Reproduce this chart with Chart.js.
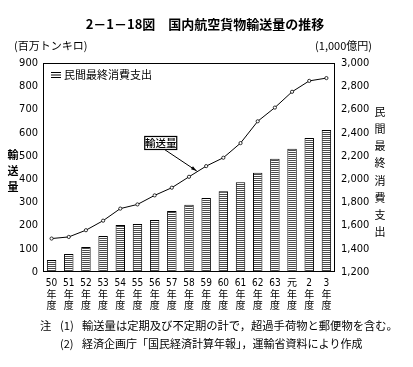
<!DOCTYPE html>
<html><head><meta charset="utf-8">
<style>html,body{margin:0;padding:0;background:#fff}canvas{display:block}</style>
<script src="https://cdn.jsdelivr.net/npm/chart.js@4.4.1/dist/chart.umd.min.js"></script>
</head><body>
<canvas id="c" width="413" height="367"></canvas>
<script>
const years = ['50','51','52','53','54','55','56','57','58','59','60','61','62','63','元','2','3'];
const categories = years.map(y => [y, '年', '度']);
const cargoVolume = [144,151,180,221,273,291,330,363,410,456,492,555,649,708,776,823,835];
const consumption = [1304,1356,1416,1511,1604,1613,1647,1725,1780,1838,1895,1973,2054,2175,2262,2354,2423];
const leftRange = {min: 0, max: 900, step: 100};
const rightRange = {min: 1200, max: 3000, step: 200};

const canvas = document.getElementById('c');
const ctx = canvas.getContext('2d');
const pc = document.createElement('canvas');
pc.width = 4; pc.height = 2;
const pg = pc.getContext('2d');
pg.fillStyle = '#fff'; pg.fillRect(0,0,4,2);
pg.fillStyle = '#4a4a4a'; pg.fillRect(0,0,4,1);
const stripes = ctx.createPattern(pc, 'repeat');

const NUM = "'Liberation Sans Narrow','DejaVu Sans Condensed','Noto Sans CJK JP',sans-serif";
const CJK = "'Noto Sans CJK JP',sans-serif";

const decor = {
  id: 'decor',
  afterDraw(chart) {
    const c = chart.ctx, a = chart.chartArea;
    c.save();
    c.strokeStyle = '#000'; c.lineWidth = 1;
    c.strokeRect(Math.round(a.left)+0.5, Math.round(a.top)+0.5, Math.round(a.right-a.left)-1, Math.round(a.bottom-a.top)-1);
    c.fillStyle = '#000';
    // title
    c.font = "bold 13px " + CJK;
    c.textAlign = 'center'; c.textBaseline = 'middle';
    c.fillText('2－1－18図　国内航空貨物輸送量の推移', 205, 24);
    // axis units
    c.font = "11px " + CJK;
    c.textAlign = 'left';
    c.fillText('(百万トンキロ)', 14, 46);
    c.textAlign = 'right';
    c.fillText('(1,000億円)', 372, 46);
    // vertical labels
    c.textAlign = 'center';
    c.font = "bold 11px " + CJK;
    ['輸','送','量'].forEach((ch,i) => c.fillText(ch, 13, 155 + i*16));
    c.font = "11px " + CJK;
    ['民','間','最','終','消','費','支','出'].forEach((ch,i) => c.fillText(ch, 380, 112 + i*17.1));
    // legend
    c.lineWidth = 1;
    for (let i = 0; i < 3; i++) {
      c.beginPath(); c.moveTo(51, 72.5 + i*2.5); c.lineTo(61, 72.5 + i*2.5); c.stroke();
    }
    c.textAlign = 'left';
    c.font = "11px " + CJK;
    c.fillText('民間最終消費支出', 64, 75);
    // annotation arrow anchored to the line between 58 and 59
    const xs = chart.scales.x, ys = chart.scales.y;
    const t = 0.45;
    const tipX = xs.getPixelForValue(8 + t);
    const tipY = ys.getPixelForValue(cargoVolume[8] + (cargoVolume[9]-cargoVolume[8])*t) - 1;
    const bx = tipX - 36, by = tipY - 28;
    c.lineWidth = 1;
    c.beginPath(); c.moveTo(bx + 3, by + 6); c.lineTo(tipX, tipY); c.stroke();
    const ang = Math.atan2(tipY - by - 6, tipX - bx - 3);
    c.beginPath();
    c.moveTo(tipX, tipY);
    c.lineTo(tipX - 6*Math.cos(ang-0.3), tipY - 6*Math.sin(ang-0.3));
    c.lineTo(tipX - 6*Math.cos(ang+0.3), tipY - 6*Math.sin(ang+0.3));
    c.closePath(); c.fill();
    c.fillStyle = '#fff';
    c.fillRect(bx - 16, by - 6.5, 32, 13);
    c.strokeStyle = '#000'; c.lineWidth = 1.2;
    c.strokeRect(bx - 16, by - 6.5, 32, 13);
    c.fillStyle = '#000';
    c.textAlign = 'center';
    c.font = "500 10.5px " + CJK;
    c.fillText('輸送量', bx, by + 0.5);
    // notes
    c.font = "11.3px " + CJK;
    c.textAlign = 'left';
    c.fillText('注', 40, 326);
    c.fillText('(1)', 60, 326);
    c.fillText('輸送量は定期及び不定期の計で，超過手荷物と郵便物を含む。', 82, 326);
    c.font = "11px " + CJK;
    c.fillText('(2)', 60, 344);
    c.fillText('経済企画庁「国民経済計算年報」，運輸省資料により作成', 82, 344);
    c.restore();
  }
};

new Chart(ctx, {
  data: {
    labels: categories,
    datasets: [
      {
        type: 'line', label: '輸送量', data: cargoVolume, yAxisID: 'y', order: 0,
        borderColor: '#000', borderWidth: 1, tension: 0,
        pointRadius: 1.6, pointBackgroundColor: '#fff', pointBorderColor: '#000', pointBorderWidth: 0.8
      },
      {
        type: 'bar', label: '民間最終消費支出', data: consumption, yAxisID: 'y1', order: 1,
        backgroundColor: stripes, borderColor: '#000', borderWidth: 1,
        categoryPercentage: 1, barPercentage: 0.55
      }
    ]
  },
  options: {
    responsive: false, animation: false,
    layout: {padding: {top: 63, left: 0, right: 0, bottom: 0}},
    plugins: {legend: {display: false}, title: {display: false}, tooltip: {enabled: false}},
    scales: {
      x: {
        grid: {display: false, drawTicks: false}, border: {display: false},
        ticks: {color: '#000', padding: 6, autoSkip: false, maxRotation: 0,
                font: {size: 10, family: NUM, lineHeight: 1.15}},
        afterFit(s) { s.height = 95; }
      },
      y: {
        position: 'left', min: leftRange.min, max: leftRange.max,
        grid: {display: false, drawTicks: false}, border: {display: false},
        ticks: {stepSize: leftRange.step, color: '#000', padding: 5, font: {size: 11, family: NUM}},
        afterFit(s) { s.width = 43; }
      },
      y1: {
        position: 'right', min: rightRange.min, max: rightRange.max,
        grid: {display: false, drawTicks: false}, border: {display: false},
        ticks: {stepSize: rightRange.step, color: '#000', padding: 6, font: {size: 11, family: NUM}},
        afterFit(s) { s.width = 78; }
      }
    }
  },
  plugins: [decor]
});
</script>
</body></html>
